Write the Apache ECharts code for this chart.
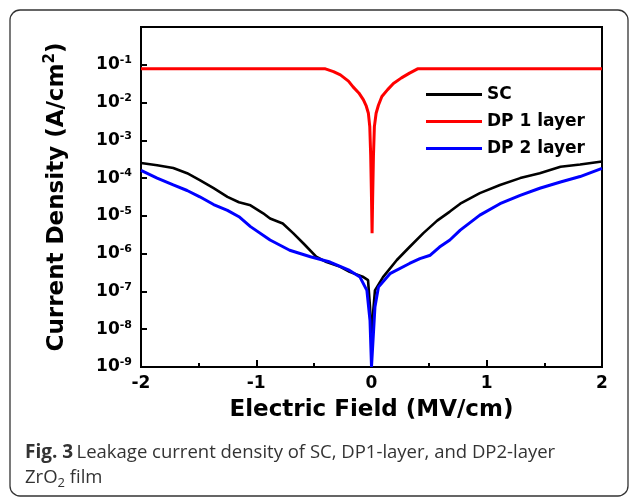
<!DOCTYPE html>
<html>
<head>
<meta charset="utf-8">
<script src="https://cdn.jsdelivr.net/npm/echarts@6/dist/echarts.min.js"></script>
<style>
html,body{margin:0;padding:0;background:#fff;}
#chart{width:630px;height:498px;}
</style>
</head>
<body>
<div id="chart"></div>
<script>
// Electric field (MV/cm) and current density (A/cm^2)
const scField = [-2.0,-1.86,-1.72,-1.6,-1.49,-1.37,-1.25,-1.15,-1.05,-0.94,-0.88,-0.77,-0.68,-0.59,-0.48,-0.39,-0.27,-0.19,-0.07,-0.03,-0.013,0.0,0.003,0.015,0.03,0.10,0.22,0.33,0.45,0.57,0.68,0.77,0.94,1.115,1.29,1.46,1.64,1.81,2.0];
const scJ = [2.5e-4,2.2e-4,1.86e-4,1.35e-4,8.9e-5,5.4e-5,3.2e-5,2.3e-5,1.9e-5,1.17e-5,8.5e-6,6.3e-6,3.5e-6,1.86e-6,8.3e-7,6.0e-7,4.5e-7,3.3e-7,2.4e-7,2.0e-7,3.9e-8,5e-9,6e-9,3e-8,1.07e-7,2.4e-7,6.8e-7,1.5e-6,3.5e-6,7.5e-6,1.3e-5,2.1e-5,4.0e-5,6.6e-5,1.0e-4,1.35e-4,2.0e-4,2.3e-4,2.75e-4];

const dp1Field = [-2.0,-0.40,-0.33,-0.27,-0.20,-0.16,-0.11,-0.07,-0.045,-0.027,-0.015,-0.007,0.0,0.005,0.01,0.017,0.025,0.04,0.06,0.09,0.14,0.19,0.26,0.33,0.40,2.0];
const dp1J = [0.078,0.078,0.066,0.054,0.037,0.026,0.018,0.0118,0.008,5.2e-3,2.3e-3,4e-4,3e-5,3.5e-6,3e-5,4e-4,2.3e-3,5.2e-3,0.0085,0.0145,0.022,0.032,0.045,0.06,0.078,0.078];

const dp2Field = [-2.0,-1.86,-1.72,-1.6,-1.49,-1.37,-1.25,-1.15,-1.05,-0.88,-0.71,-0.53,-0.36,-0.19,-0.10,-0.04,-0.013,0.0,0.03,0.06,0.16,0.33,0.42,0.51,0.59,0.68,0.77,0.94,1.115,1.29,1.46,1.64,1.81,2.0];
const dp2J = [1.6e-4,1.0e-4,6.6e-5,4.7e-5,3.2e-5,2.0e-5,1.4e-5,9.5e-6,5.2e-6,2.3e-6,1.23e-6,8.3e-7,6.0e-7,3.6e-7,2.4e-7,1.07e-7,1.7e-8,1e-9,3.9e-8,1.3e-7,2.95e-7,5.5e-7,7.4e-7,9.1e-7,1.5e-6,2.3e-6,4.2e-6,1.05e-5,2.1e-5,3.5e-5,5.4e-5,7.9e-5,1.1e-4,1.8e-4];

const seriesNames = ['SC', 'DP 1 layer', 'DP 2 layer'];
const seriesColors = ['#000000', '#ff0000', '#0000ff'];
const xTicks = [-2, -1, 0, 1, 2];

const zip = (xs, ys) => xs.map((x, i) => [x, ys[i]]);
const datasets = [zip(scField, scJ), zip(dp1Field, dp1J), zip(dp2Field, dp2J)];

const chart = echarts.init(document.getElementById('chart'), null, {renderer: 'canvas'});
const boldFont = 'DejaVu Sans';

chart.setOption({
  animation: false,
  backgroundColor: '#ffffff',
  grid: {left: 141, right: 28, top: 27, bottom: 131, show: true, borderColor: '#000', borderWidth: 2, containLabel: false},
  legend: {
    orient: 'vertical', left: 421, top: 80, itemWidth: 56, itemHeight: 3, itemGap: 8, icon: 'rect',
    textStyle: {fontFamily: boldFont, fontWeight: 'bold', fontSize: 17, color: '#000', lineHeight: 19},
    data: seriesNames
  },
  xAxis: {
    type: 'value', min: xTicks[0], max: xTicks[xTicks.length - 1], interval: 1,
    name: 'Electric Field (MV/cm)', nameLocation: 'middle', nameGap: 32,
    nameTextStyle: {fontFamily: boldFont, fontWeight: 'bold', fontSize: 23, color: '#000'},
    axisLine: {onZero: false, lineStyle: {color: '#000', width: 2}},
    axisTick: {inside: true, length: 7, lineStyle: {width: 2, color: '#000'}},
    minorTick: {show: true, splitNumber: 2, length: 4, lineStyle: {width: 2, color: '#000'}},
    axisLabel: {margin: 8, fontFamily: boldFont, fontWeight: 'bold', fontSize: 17, color: '#000'},
    splitLine: {show: false}
  },
  yAxis: {
    type: 'log', logBase: 10, min: 1e-9, max: 1,
    name: '{a|Current Density (A/cm}{s|2}{a|)}', nameLocation: 'middle', nameGap: 70, nameRotate: 90,
    nameTextStyle: {
      rich: {
        a: {fontFamily: boldFont, fontWeight: 'bold', fontSize: 23, color: '#000', lineHeight: 28},
        s: {fontFamily: boldFont, fontWeight: 'bold', fontSize: 15, color: '#000', lineHeight: 15, verticalAlign: 'top'}
      }
    },
    axisLine: {show: true, onZero: false, lineStyle: {color: '#000', width: 2}},
    axisTick: {show: true, inside: true, length: 6, lineStyle: {width: 2, color: '#000'}},
    axisLabel: {
      margin: 9,
      formatter: function (v) {
        const e = Math.round(Math.log10(v));
        if (e === 0) return '';
        return '{b|10}{s|' + e + '}';
      },
      rich: {
        b: {fontFamily: boldFont, fontWeight: 'bold', fontSize: 17, color: '#000', lineHeight: 20},
        s: {fontFamily: boldFont, fontWeight: 'bold', fontSize: 11, color: '#000', lineHeight: 11, verticalAlign: 'top'}
      }
    },
    splitLine: {show: false}
  },
  series: seriesNames.map((n, i) => ({
    name: n, type: 'line', data: datasets[i], showSymbol: false, symbol: 'none',
    color: seriesColors[i], itemStyle: {color: seriesColors[i]},
    lineStyle: {color: seriesColors[i], width: i === 0 ? 2.6 : 3},
    clip: true, z: 2 + i
  })),
  graphic: [
    {type: 'rect', shape: {x: 10, y: 10, width: 618, height: 486, r: 10}, style: {fill: 'none', stroke: '#333', lineWidth: 1.3}, z: 100},
    {type: 'text', left: 25, top: 443, style: {
      text: '{b|Fig. 3} {n|Leakage current density of SC, DP1-layer, and DP2-layer}',
      rich: {
        b: {fontFamily: 'Open Sans', fontWeight: 'bold', fontSize: 19, fill: '#333', lineHeight: 24},
        n: {fontFamily: 'Open Sans', fontSize: 18.5, fill: '#333', lineHeight: 24}
      }
    }, z: 100},
    {type: 'text', left: 25, top: 468, style: {
      text: '{n|ZrO}{u|2}{n| film}',
      rich: {
        n: {fontFamily: 'Open Sans', fontSize: 18.5, fill: '#333', lineHeight: 24},
        u: {fontFamily: 'Open Sans', fontSize: 13, fill: '#333', lineHeight: 13, verticalAlign: 'bottom'}
      }
    }, z: 100}
  ]
});
</script>
</body>
</html>
